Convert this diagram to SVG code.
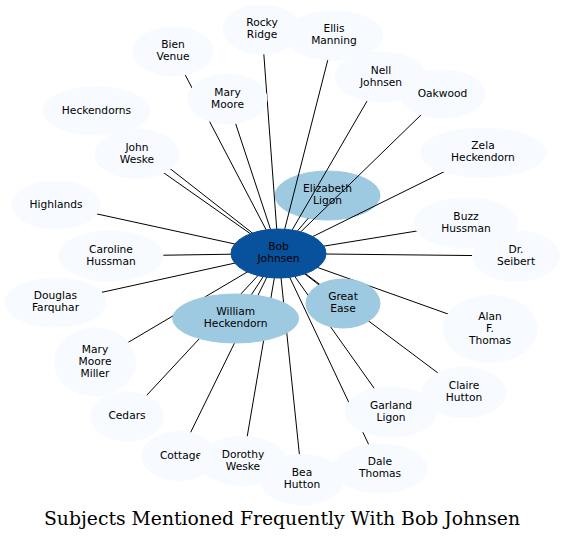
<svg xmlns="http://www.w3.org/2000/svg" width="565" height="541" viewBox="0 0 565 541">
<style>
.o{fill:#f7fbff;stroke:#f7fbff}
.m{fill:#9ecae1;stroke:#9ecae1}
.d{fill:#08519c;stroke:#08519c}
text{font-family:"DejaVu Sans",sans-serif;font-size:10.67px;fill:#000;text-anchor:middle}
.e line{stroke:#000;stroke-width:1}
.t{font-family:"DejaVu Serif",serif;font-size:18.67px}
</style>
<rect width="565" height="541" fill="#fff"/>
<g id="elizabeth_ligon"><ellipse class="m" cx="327.5" cy="195.5" rx="52.5" ry="24.5"/><text x="327.5" y="192.4">Elizabeth</text><text x="327.5" y="204.2">Ligon</text></g>
<g id="connectors" class="e">
<line x1="278.5" y1="253.5" x2="173" y2="51.5"/>
<line x1="278.5" y1="253.5" x2="262" y2="29.5"/>
<line x1="278.5" y1="253.5" x2="334" y2="35.5"/>
<line x1="278.5" y1="253.5" x2="227.5" y2="99"/>
<line x1="278.5" y1="253.5" x2="381" y2="77"/>
<line x1="278.5" y1="253.5" x2="442.5" y2="94"/>
<line x1="278.5" y1="253.5" x2="96.5" y2="111"/>
<line x1="278.5" y1="253.5" x2="137" y2="154"/>
<line x1="278.5" y1="253.5" x2="483" y2="152.5"/>
<line x1="297" y1="231.5" x2="308.2" y2="218.3"/>
<line x1="278.5" y1="253.5" x2="56" y2="205"/>
<line x1="278.5" y1="253.5" x2="466" y2="223"/>
<line x1="278.5" y1="253.5" x2="111" y2="256"/>
<line x1="278.5" y1="253.5" x2="516" y2="256"/>
<line x1="278.5" y1="253.5" x2="55.5" y2="302.5"/>
<line x1="278.5" y1="253.5" x2="235.7" y2="318.5"/>
<line x1="278.5" y1="253.5" x2="343" y2="303.5"/>
<line x1="278.5" y1="253.5" x2="490" y2="329"/>
<line x1="278.5" y1="253.5" x2="95" y2="362"/>
<line x1="278.5" y1="253.5" x2="127" y2="416.5"/>
<line x1="278.5" y1="253.5" x2="464" y2="392.5"/>
<line x1="278.5" y1="253.5" x2="391" y2="412"/>
<line x1="278.5" y1="253.5" x2="179" y2="456"/>
<line x1="278.5" y1="253.5" x2="243" y2="461"/>
<line x1="278.5" y1="253.5" x2="302" y2="479.5"/>
<line x1="278.5" y1="253.5" x2="380" y2="468.5"/>
</g>
<g id="bien_venue"><ellipse class="o" cx="173" cy="51.5" rx="40" ry="24.5"/><text x="173" y="48.4">Bien</text><text x="173" y="60.2">Venue</text></g>
<g id="rocky_ridge"><ellipse class="o" cx="262" cy="29.5" rx="39" ry="24.5"/><text x="262" y="26.4">Rocky</text><text x="262" y="38.2">Ridge</text></g>
<g id="ellis_manning"><ellipse class="o" cx="334" cy="35.5" rx="49" ry="24.5"/><text x="334" y="32.4">Ellis</text><text x="334" y="44.2">Manning</text></g>
<g id="mary_moore"><ellipse class="o" cx="227.5" cy="99" rx="39.5" ry="25"/><text x="227.5" y="95.9">Mary</text><text x="227.5" y="107.7">Moore</text></g>
<g id="nell_johnsen"><ellipse class="o" cx="381" cy="77" rx="46" ry="25"/><text x="381" y="73.9">Nell</text><text x="381" y="85.7">Johnsen</text></g>
<g id="oakwood"><ellipse class="o" cx="442.5" cy="94" rx="42.5" ry="24"/><text x="442.5" y="96.8">Oakwood</text></g>
<g id="heckendorns"><ellipse class="o" cx="96.5" cy="111" rx="53.5" ry="24"/><text x="96.5" y="113.8">Heckendorns</text></g>
<g id="john_weske"><ellipse class="o" cx="137" cy="154" rx="42" ry="24.5"/><text x="137" y="150.9">John</text><text x="137" y="162.7">Weske</text></g>
<g id="zela_heckendorn"><ellipse class="o" cx="483" cy="152.5" rx="63" ry="24.5"/><text x="483" y="149.4">Zela</text><text x="483" y="161.2">Heckendorn</text></g>
<g id="highlands"><ellipse class="o" cx="56" cy="205" rx="44" ry="24"/><text x="56" y="207.8">Highlands</text></g>
<g id="buzz_hussman"><ellipse class="o" cx="466" cy="223" rx="52" ry="25"/><text x="466" y="219.9">Buzz</text><text x="466" y="231.7">Hussman</text></g>
<g id="caroline_hussman"><ellipse class="o" cx="111" cy="256" rx="52" ry="25"/><text x="111" y="252.9">Caroline</text><text x="111" y="264.7">Hussman</text></g>
<g id="dr_seibert"><ellipse class="o" cx="516" cy="256" rx="43.5" ry="25"/><text x="516" y="252.9">Dr.</text><text x="516" y="264.7">Seibert</text></g>
<g id="douglas_farquhar"><ellipse class="o" cx="55.5" cy="302.5" rx="50.5" ry="24.5"/><text x="55.5" y="299.4">Douglas</text><text x="55.5" y="311.2">Farquhar</text></g>
<g id="alan_f_thomas"><ellipse class="o" cx="490" cy="329" rx="47" ry="33.5"/><text x="490" y="319.8">Alan</text><text x="490" y="331.8">F.</text><text x="490" y="343.8">Thomas</text></g>
<g id="mary_moore_miller"><ellipse class="o" cx="95" cy="362" rx="40.5" ry="34"/><text x="95" y="352.8">Mary</text><text x="95" y="364.8">Moore</text><text x="95" y="376.8">Miller</text></g>
<g id="cedars"><ellipse class="o" cx="127" cy="416.5" rx="36.5" ry="24.5"/><text x="127" y="419.3">Cedars</text></g>
<g id="garland_ligon"><ellipse class="o" cx="391" cy="412" rx="46" ry="25"/><text x="391" y="408.9">Garland</text><text x="391" y="420.7">Ligon</text></g>
<g id="claire_hutton"><ellipse class="o" cx="464" cy="392.5" rx="42" ry="25"/><text x="464" y="389.4">Claire</text><text x="464" y="401.2">Hutton</text></g>
<g id="cottage"><ellipse class="o" cx="179" cy="456" rx="37" ry="24.5"/><text x="181" y="458.8">Cottage</text></g>
<g id="dorothy_weske"><ellipse class="o" cx="242.5" cy="461" rx="43.5" ry="24.5"/><text x="243" y="457.9">Dorothy</text><text x="243" y="469.7">Weske</text></g>
<g id="bea_hutton"><ellipse class="o" cx="302" cy="479.5" rx="42" ry="25"/><text x="302" y="476.4">Bea</text><text x="302" y="488.2">Hutton</text></g>
<g id="dale_thomas"><ellipse class="o" cx="380" cy="468.5" rx="47" ry="24.5"/><text x="380" y="465.4">Dale</text><text x="380" y="477.2">Thomas</text></g>
<g id="bob_johnsen"><ellipse class="d" cx="278.5" cy="253.5" rx="47.5" ry="24.5"/><text x="278.5" y="250.4">Bob</text><text x="278.5" y="262.2">Johnsen</text></g>
<g id="william_heckendorn"><ellipse class="m" cx="235.7" cy="318.5" rx="63" ry="24.5"/><text x="235.7" y="315.4">William</text><text x="235.7" y="327.2">Heckendorn</text></g>
<g id="great_ease"><ellipse class="m" cx="343" cy="303.5" rx="37" ry="24.5"/><text x="343" y="300.4">Great</text><text x="343" y="312.2">Ease</text></g>
<text class="t" x="282" y="525" textLength="476" lengthAdjust="spacingAndGlyphs">Subjects Mentioned Frequently With Bob Johnsen</text>
</svg>
